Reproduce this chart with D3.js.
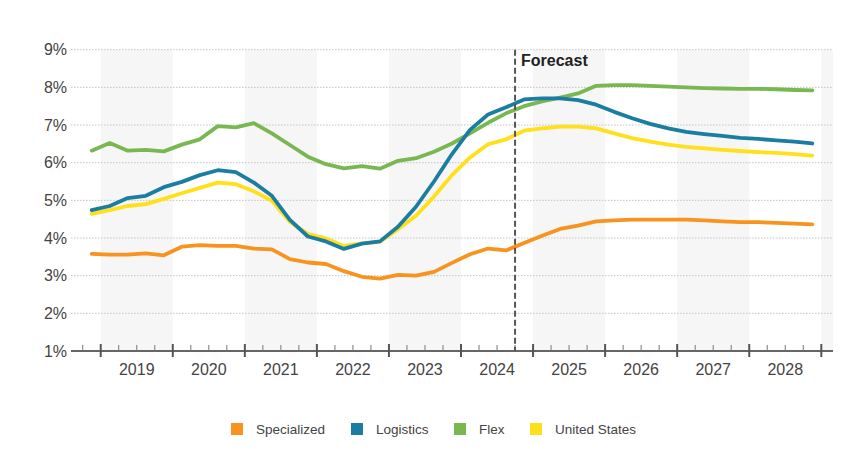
<!DOCTYPE html>
<html>
<head>
<meta charset="utf-8">
<script src="https://cdn.jsdelivr.net/npm/d3@7"></script>
<style>
  html, body { margin: 0; padding: 0; background: #fff; }
  svg { display: block; font-family: "Liberation Sans", Arial, sans-serif; }
</style>
</head>
<body>
<svg id="chart" width="860" height="472"></svg>
<script>
// Quarters from 2018 Q4 to 2028 Q4
const quarters = ["2018Q4",
  "2019Q1","2019Q2","2019Q3","2019Q4",
  "2020Q1","2020Q2","2020Q3","2020Q4",
  "2021Q1","2021Q2","2021Q3","2021Q4",
  "2022Q1","2022Q2","2022Q3","2022Q4",
  "2023Q1","2023Q2","2023Q3","2023Q4",
  "2024Q1","2024Q2","2024Q3","2024Q4",
  "2025Q1","2025Q2","2025Q3","2025Q4",
  "2026Q1","2026Q2","2026Q3","2026Q4",
  "2027Q1","2027Q2","2027Q3","2027Q4",
  "2028Q1","2028Q2","2028Q3","2028Q4"];

const specialized = [3.58,
  3.56,3.56,3.59,3.54,
  3.77,3.81,3.79,3.79,
  3.72,3.70,3.44,3.35,
  3.31,3.12,2.97,2.92,
  3.02,3.00,3.10,3.34,
  3.57,3.72,3.67,3.87,
  4.06,4.24,4.33,4.44,
  4.47,4.49,4.49,4.49,
  4.49,4.47,4.44,4.42,
  4.42,4.40,4.38,4.36];

const logistics = [4.74,
  4.85,5.06,5.12,5.35,
  5.49,5.67,5.80,5.75,
  5.47,5.12,4.48,4.04,
  3.91,3.71,3.85,3.91,
  4.30,4.83,5.50,6.23,
  6.87,7.28,7.47,7.68,
  7.71,7.71,7.66,7.54,
  7.35,7.18,7.03,6.91,
  6.82,6.76,6.71,6.66,
  6.63,6.59,6.56,6.51];

const flex = [6.32,
  6.52,6.32,6.34,6.30,
  6.48,6.62,6.97,6.94,
  7.05,6.78,6.47,6.16,
  5.96,5.85,5.91,5.84,
  6.05,6.12,6.29,6.51,
  6.78,7.06,7.31,7.50,
  7.63,7.73,7.84,8.04,
  8.06,8.06,8.04,8.02,
  8.00,7.98,7.97,7.96,
  7.96,7.95,7.93,7.92];

const unitedStates = [4.64,
  4.74,4.85,4.90,5.04,
  5.19,5.33,5.47,5.43,
  5.24,4.99,4.43,4.11,
  3.99,3.79,3.86,3.90,
  4.23,4.59,5.10,5.67,
  6.14,6.49,6.62,6.85,
  6.91,6.96,6.96,6.91,
  6.78,6.65,6.56,6.48,
  6.42,6.38,6.34,6.31,
  6.28,6.26,6.23,6.19];

const years = ["2019","2020","2021","2022","2023","2024","2025","2026","2027","2028"];
const yTicks = [1,2,3,4,5,6,7,8,9];
const seriesNames = ["Specialized","Logistics","Flex","United States"];
const forecastStart = "2024Q4";

(function () {
// ---------- styling ----------
const colors = {
  "Specialized": "#F7931E",
  "Logistics": "#1B7DA1",
  "Flex": "#79B851",
  "United States": "#FFE01A"
};
const seriesData = {
  "Specialized": specialized,
  "Logistics": logistics,
  "Flex": flex,
  "United States": unitedStates
};

const svg = d3.select("#chart");
const plotLeft = 71, plotRight = 833, plotTop = 49.7, plotBottom = 351;

// x: quarter index (0 = 2018Q4), padded by ~0.65 quarter beyond outer quarter edges
const x = d3.scaleLinear().domain([-1.15, quarters.length - 1 + 1.15]).range([plotLeft, plotRight]);
const y = d3.scaleLinear().domain([1, 9]).range([plotBottom, plotTop]);

const qIndex = q => quarters.indexOf(q);
const yearStartIdx = yr => qIndex(yr + "Q1") - 0.5;

// Alternating year bands (2019, 2021, ... and partial 2029)
const bandYears = years.filter((yr, k) => k % 2 === 0);
const gBands = svg.append("g");
bandYears.forEach(yr => {
  const s = yearStartIdx(yr);
  gBands.append("rect")
    .attr("x", x(s)).attr("y", y(9))
    .attr("width", x(s + 4) - x(s)).attr("height", y(1) - y(9))
    .attr("fill", "#f6f6f6");
});
{
  const s = quarters.length - 0.5;
  const e = x.domain()[1];
  gBands.append("rect")
    .attr("x", x(s)).attr("y", y(9))
    .attr("width", x(e) - x(s)).attr("height", y(1) - y(9))
    .attr("fill", "#f6f6f6");
}

// Gridlines
const gGrid = svg.append("g");
yTicks.filter(t => t > 1).forEach(t => {
  gGrid.append("line")
    .attr("x1", plotLeft).attr("x2", plotRight)
    .attr("y1", y(t)).attr("y2", y(t))
    .attr("stroke", "#c4c4c4").attr("stroke-width", 1)
    .attr("stroke-dasharray", "1.5,1.5");
});

// Y labels
const yAxis = d3.axisLeft(y).tickValues(yTicks).tickSize(0).tickPadding(4)
  .tickFormat(d => d + "%");
const gy = svg.append("g").attr("transform", `translate(${plotLeft},0)`).call(yAxis);
gy.select(".domain").remove();
gy.selectAll("text")
  .attr("font-family", "'Liberation Sans', Arial, sans-serif")
  .attr("font-size", 16).attr("fill", "#444");

// X axis line and ticks
const gx = svg.append("g");
gx.append("line")
  .attr("x1", plotLeft).attr("x2", plotRight)
  .attr("y1", plotBottom).attr("y2", plotBottom)
  .attr("stroke", "#666").attr("stroke-width", 2);

const boundaries = d3.range(-0.5, quarters.length, 1);
boundaries.forEach(b => {
  const idx = Math.round(b + 0.5);
  const q = quarters[idx];
  const isMajor = (q && q.endsWith("Q1")) || idx === quarters.length;
  if (isMajor) {
    gx.append("line")
      .attr("x1", x(b)).attr("x2", x(b))
      .attr("y1", plotBottom - 7).attr("y2", plotBottom + 6)
      .attr("stroke", "#555").attr("stroke-width", 2);
  } else {
    gx.append("line")
      .attr("x1", x(b)).attr("x2", x(b))
      .attr("y1", plotBottom - 6).attr("y2", plotBottom)
      .attr("stroke", "#777").attr("stroke-width", 1);
  }
});

// Year labels
years.forEach(yr => {
  const s = yearStartIdx(yr);
  gx.append("text")
    .attr("x", x(s + 2)).attr("y", plotBottom + 23.5)
    .attr("text-anchor", "middle")
    .attr("font-size", 16).attr("fill", "#444")
    .text(yr);
});

// Lines
const line = d3.line()
  .x((d, i) => x(i))
  .y(d => y(d));
const drawOrder = ["Specialized", "Flex", "United States", "Logistics"];
const gLines = svg.append("g");
drawOrder.forEach(name => {
  gLines.append("path")
    .datum(seriesData[name])
    .attr("d", line)
    .attr("fill", "none")
    .attr("stroke", colors[name])
    .attr("stroke-width", 3.8)
    .attr("stroke-linejoin", "round")
    .attr("stroke-linecap", "round");
});

// Forecast divider
const fx = x(qIndex(forecastStart) - 0.5);
svg.append("line")
  .attr("x1", fx).attr("x2", fx)
  .attr("y1", y(9)).attr("y2", plotBottom)
  .attr("stroke", "#555").attr("stroke-width", 2)
  .attr("stroke-dasharray", "6,3");
svg.append("text")
  .attr("x", fx + 6).attr("y", 65.5)
  .attr("font-size", 16).attr("font-weight", "bold").attr("fill", "#222")
  .text("Forecast");

// Legend
const legendX = [231, 351, 454, 530];
const gLeg = svg.append("g");
seriesNames.forEach((name, k) => {
  gLeg.append("rect")
    .attr("x", legendX[k]).attr("y", 423)
    .attr("width", 12).attr("height", 12)
    .attr("fill", colors[name]);
  gLeg.append("text")
    .attr("x", legendX[k] + 25).attr("y", 433.5)
    .attr("font-size", 13.5).attr("fill", "#444")
    .text(name);
});
})();
</script>
</body>
</html>
